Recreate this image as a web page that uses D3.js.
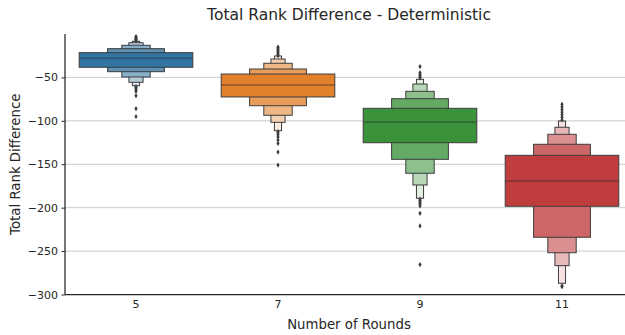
<!DOCTYPE html>
<html>
<head>
<meta charset="utf-8">
<script src="https://cdn.jsdelivr.net/npm/d3@7"></script>
<style>
  html, body { margin: 0; padding: 0; background: #fff; }
  svg { display: block; font-family: "DejaVu Sans", sans-serif; }
</style>
</head>
<body>
<svg id="chart" width="625" height="335"></svg>
<script>
// Number of rounds on the x axis
const categories = ["5", "7", "9", "11"];
const baseColors = ["#3274a1", "#e1812c", "#3a923a", "#c03d3e"];

// Median of each group
const medians = [-28.0, -58.7, -101.3, -169.3];

// Letter-value box ends, innermost box (quartiles) first
const lowerEnds = [
  [-38.3, -43.4, -49.5, -55.6, -59.5],
  [-72.5, -82.6, -93.6, -101.7, -111.4],
  [-125.2, -144.3, -160.4, -173.9, -189.2],
  [-198.4, -234.1, -251.9, -266.8, -287.1]
];
const upperEnds = [
  [-21.5, -16.9, -13.0, -10.0, -8.4],
  [-46.1, -40.3, -33.7, -28.8, -25.3],
  [-85.6, -74.5, -66.0, -57.6, -52.2],
  [-139.7, -127.0, -115.5, -107.4, -100.2]
];

// Points beyond the outermost boxes
const outliers = [
  [-3, -4, -5, -5.5, -6, -7, -7.5, -60.5, -61.5, -63, -64.5, -66, -71, -86, -95],
  [-15, -16, -17.5, -19, -20.5, -22, -23.5, -25, -112.5, -114, -116, -118.5, -122, -126, -136, -151],
  [-37.5, -44.5, -46, -47.5, -49, -50.5, -190, -191.5, -193, -194.5, -196, -198, -206.5, -221, -265.5],
  [-81, -84, -87, -90, -93, -96, -99, -290, -291]
];

const yTicks = [-50, -100, -150, -200, -250, -300];

const svg = d3.select("#chart");
const plotLeft = 65, plotRight = 633, plotTop = 34, plotBottom = 294.5;
const ink = "#262626", edge = "#3d3d3d";

const x = d3.scaleBand().domain(categories).range([plotLeft, plotRight]).padding(0);
const y = d3.scaleLinear().domain([-300, 0]).range([plotBottom, plotTop]);

// Horizontal grid
svg.append("g").selectAll("line").data(yTicks).join("line")
  .attr("x1", plotLeft).attr("x2", plotRight)
  .attr("y1", d => y(d)).attr("y2", d => y(d))
  .attr("stroke", "#cccccc").attr("stroke-width", 1);

const boxWidth = x.bandwidth() * 0.8;
const nLevels = 5;

categories.forEach((cat, g) => {
  const cx = x(cat) + x.bandwidth() / 2;
  const base = d3.rgb(baseColors[g]);
  const grp = svg.append("g");
  // outermost boxes first so inner ones sit on top
  const levels = d3.range(nLevels).reverse();
  grp.selectAll("rect").data(levels).join("rect")
    .attr("x", i => cx - boxWidth * Math.pow(0.5, i) / 2)
    .attr("width", i => boxWidth * Math.pow(0.5, i))
    .attr("y", i => y(upperEnds[g][i]))
    .attr("height", i => y(lowerEnds[g][i]) - y(upperEnds[g][i]))
    .attr("fill", i => d3.interpolateRgb(base, "#ffffff")(0.85 * i / (nLevels - 1)))
    .attr("stroke", edge).attr("stroke-width", 1);
  // median line
  grp.append("line")
    .attr("x1", cx - boxWidth / 2).attr("x2", cx + boxWidth / 2)
    .attr("y1", y(medians[g])).attr("y2", y(medians[g]))
    .attr("stroke", "#262626").attr("stroke-opacity", 0.45).attr("stroke-width", 1.5);
  // outlier diamonds
  grp.selectAll("path").data(outliers[g]).join("path")
    .attr("d", v => {
      const py = y(v), w = 1.6, h = 2.6;
      return `M${cx},${py - h}L${cx + w},${py}L${cx},${py + h}L${cx - w},${py}Z`;
    })
    .attr("fill", edge);
});

// Y axis
const yAxis = svg.append("g").attr("transform", `translate(${plotLeft},0)`)
  .call(d3.axisLeft(y).tickValues(yTicks).tickSize(3.5).tickPadding(3.5)
    .tickFormat(d => d3.format("d")(d).replace("-", "\u2212")));
yAxis.select(".domain").attr("d", `M0,${plotTop}V${plotBottom}`).attr("stroke", ink).attr("stroke-width", 1.25);
yAxis.selectAll(".tick line").attr("stroke", ink).attr("stroke-width", 1);
yAxis.selectAll(".tick text").attr("fill", ink).style("font-size", "11px")
  .style("font-family", "DejaVu Sans");

// X axis
const xAxis = svg.append("g").attr("transform", `translate(0,${plotBottom})`)
  .call(d3.axisBottom(x).tickSize(0).tickPadding(6));
xAxis.select(".domain").attr("d", `M${plotLeft},0H${plotRight}`).attr("stroke", ink).attr("stroke-width", 1.25);
xAxis.selectAll(".tick text").attr("fill", ink).style("font-size", "11px")
  .style("font-family", "DejaVu Sans");

// Titles
svg.append("text").attr("x", (plotLeft + plotRight) / 2).attr("y", 20)
  .attr("text-anchor", "middle").attr("fill", ink).style("font-size", "15.5px")
  .text("Total Rank Difference - Deterministic");
svg.append("text").attr("x", (plotLeft + plotRight) / 2).attr("y", 329)
  .attr("text-anchor", "middle").attr("fill", ink).style("font-size", "13.3px")
  .text("Number of Rounds");
svg.append("text").attr("transform", `translate(20,${(plotTop + plotBottom) / 2}) rotate(-90)`)
  .attr("text-anchor", "middle").attr("fill", ink).style("font-size", "13.3px")
  .text("Total Rank Difference");
</script>
</body>
</html>
